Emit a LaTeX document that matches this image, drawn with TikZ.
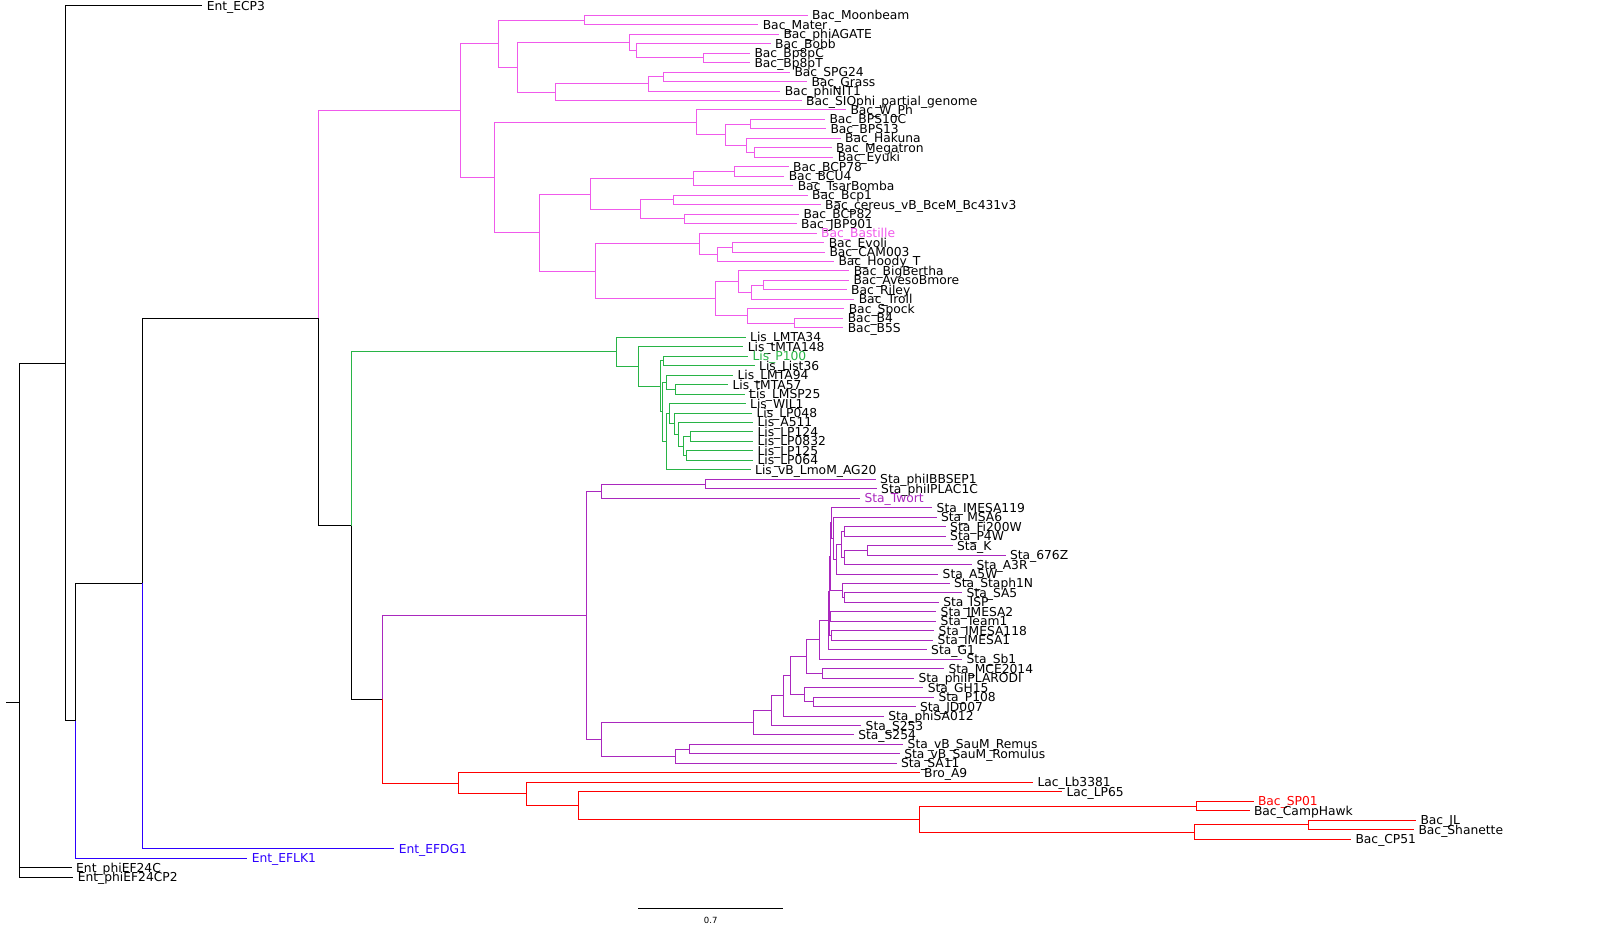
\documentclass[tikz,border=0pt]{standalone}
\usepackage{fontspec}
\setmainfont{DejaVu Sans}
\usepackage{xcolor}
\definecolor{bacpink}{RGB}{240,90,235}
\definecolor{lisgreen}{RGB}{40,180,70}
\definecolor{stapurple}{RGB}{170,40,190}
\definecolor{lacred}{RGB}{255,0,0}
\definecolor{entblue}{RGB}{45,0,255}
\usepackage{tikz}

\begin{document}
\begin{tikzpicture}[
    x=1pt, y=-9.47pt, line width=1pt,
    leaf/.style={anchor=west, inner xsep=4pt, inner ysep=0pt, text height=9pt, text depth=0pt,
      font=\fontsize{12.3}{14}\selectfont},
    bacedge/.style={draw=bacpink},
    lisedge/.style={draw=lisgreen},
    staedge/.style={draw=stapurple},
    lacedge/.style={draw=lacred},
    entedge/.style={draw=entblue}
  ]
  \useasboundingbox (0,0.3875) rectangle (1614,98.275);

  %% --- Backbone ---
  \coordinate (rootstub) at (6,74.58);
  \coordinate (root) at (19.7,74.58);
  \coordinate (n1) at (65.3,38.75);
  \coordinate (n2) at (75.7,76.5);
  \coordinate (n3) at (142.3,61.99);
  \coordinate (n4) at (318.3,33.98);
  \coordinate (n5) at (351.3,55.89);
  \coordinate (n6) at (382.3,74.24);

  \node[leaf] (ecp3) at (202.3,1) {Ent\_ECP3};
  \node[leaf, text=entblue] (efdg1) at (394.3,90) {Ent\_EFDG1};
  \node[leaf, text=entblue] (eflk1) at (247.3,91) {Ent\_EFLK1};
  \node[leaf] (phief24c) at (71.7,92) {Ent\_phiEF24C};
  \node[leaf] (phief24cp2) at (73.3,93) {Ent\_phiEF24CP2};

  %% --- Bacillus ---
  \coordinate (bac) at (460.5,12.066);
  \coordinate (b1) at (584.3,2.5);
  \coordinate (b2) at (629.3,4.875);
  \coordinate (b3) at (636.3,5.75);
  \coordinate (b4) at (703.3,6.5);
  \coordinate (b6) at (663.3,8.5);
  \coordinate (b7) at (648.3,9.25);
  \coordinate (b8) at (555.3,10.125);
  \coordinate (b9) at (517.3,7.5);
  \coordinate (b10) at (498.3,5);
  \coordinate (b11) at (750.3,13.5);
  \coordinate (b12) at (754.3,16.5);
  \coordinate (b13) at (746.3,15.75);
  \coordinate (b14) at (725.3,14.625);
  \coordinate (b15) at (696.3,13.3125);
  \coordinate (b16) at (734.3,18.5);
  \coordinate (b17) at (693.3,19.25);
  \coordinate (b18) at (673.3,21.5);
  \coordinate (b19) at (684.3,23.5);
  \coordinate (b20) at (640.3,22.5);
  \coordinate (b21) at (590.3,20.875);
  \coordinate (b22) at (732.3,26.5);
  \coordinate (b23) at (717.3,27.25);
  \coordinate (b24) at (699.3,26.125);
  \coordinate (b25) at (763.3,30.5);
  \coordinate (b26) at (751.3,31.25);
  \coordinate (b27) at (738.3,30.125);
  \coordinate (b28) at (794.3,34.5);
  \coordinate (b29) at (747.3,33.75);
  \coordinate (b30) at (715.3,31.9375);
  \coordinate (b31) at (595.3,29.03);
  \coordinate (b32) at (539.3,24.953);
  \coordinate (b33) at (494.3,19.133);

  \node[leaf] (moonbeam) at (807.7,2) {Bac\_Moonbeam};
  \node[leaf] (mater) at (758.3,3) {Bac\_Mater};
  \node[leaf] (phiagate) at (779,4) {Bac\_phiAGATE};
  \node[leaf] (bobb) at (770.7,5) {Bac\_Bobb};
  \node[leaf] (bp8pc) at (750,6) {Bac\_Bp8pC};
  \node[leaf] (bp8pt) at (750,7) {Bac\_Bp8pT};
  \node[leaf] (spg24) at (790,8) {Bac\_SPG24};
  \node[leaf] (grass) at (807,9) {Bac\_Grass};
  \node[leaf] (phinit1) at (780.3,10) {Bac\_phiNIT1};
  \node[leaf] (siophi) at (801.7,11) {Bac\_SIOphi\_partial\_genome};
  \node[leaf] (wph) at (846,12) {Bac\_W\_Ph};
  \node[leaf] (bps10c) at (825,13) {Bac\_BPS10C};
  \node[leaf] (bps13) at (826,14) {Bac\_BPS13};
  \node[leaf] (hakuna) at (840.7,15) {Bac\_Hakuna};
  \node[leaf] (megatron) at (831.7,16) {Bac\_Megatron};
  \node[leaf] (eyuki) at (833.3,17) {Bac\_Eyuki};
  \node[leaf] (bcp78) at (788.7,18) {Bac\_BCP78};
  \node[leaf] (bcu4) at (784.3,19) {Bac\_BCU4};
  \node[leaf] (tsarbomba) at (793.3,20) {Bac\_TsarBomba};
  \node[leaf] (bcp1) at (807.7,21) {Bac\_Bcp1};
  \node[leaf] (cereus) at (820.7,22) {Bac\_cereus\_vB\_BceM\_Bc431v3};
  \node[leaf] (bcp82) at (799,23) {Bac\_BCP82};
  \node[leaf] (jbp901) at (796.7,24) {Bac\_JBP901};
  \node[leaf, text=bacpink] (bastille) at (816.7,25) {Bac\_Bastille};
  \node[leaf] (evoli) at (824.3,26) {Bac\_Evoli};
  \node[leaf] (cam003) at (825,27) {Bac\_CAM003};
  \node[leaf] (hoodyt) at (834,28) {Bac\_Hoody\_T};
  \node[leaf] (bigbertha) at (849.3,29) {Bac\_BigBertha};
  \node[leaf] (avesobmore) at (849,30) {Bac\_AvesoBmore};
  \node[leaf] (riley) at (846.7,31) {Bac\_Riley};
  \node[leaf] (troll) at (854.3,32) {Bac\_Troll};
  \node[leaf] (spock) at (844.3,33) {Bac\_Spock};
  \node[leaf] (bfour) at (843.3,34) {Bac\_B4};
  \node[leaf] (b5s) at (843.3,35) {Bac\_B5S};

  %% --- Listeria ---
  \coordinate (lis) at (616,37.549);
  \coordinate (l1) at (663.3,38.5);
  \coordinate (l2) at (675,41.5);
  \coordinate (l3) at (666,40.75);
  \coordinate (l4) at (690,46.5);
  \coordinate (l5) at (686.7,48.5);
  \coordinate (l6) at (683.3,47.5);
  \coordinate (l7) at (678.7,46.25);
  \coordinate (l8) at (674.3,45.125);
  \coordinate (l9) at (669,44.0625);
  \coordinate (l10) at (666.7,47.03);
  \coordinate (l11) at (662.3,43.89);
  \coordinate (l12) at (660.3,41.195);
  \coordinate (l13) at (638.7,39.098);

  \node[leaf] (lmta34) at (745.7,36) {Lis\_LMTA34};
  \node[leaf] (tmta148) at (743.3,37) {Lis\_tMTA148};
  \node[leaf, text=lisgreen] (p100) at (748,38) {Lis\_P100};
  \node[leaf] (list36) at (754.7,39) {Lis\_List36};
  \node[leaf] (lmta94) at (733,40) {Lis\_LMTA94};
  \node[leaf] (tmta57) at (728,41) {Lis\_tMTA57};
  \node[leaf] (lmsp25) at (744.7,42) {Lis\_LMSP25};
  \node[leaf] (wil1) at (745.7,43) {Lis\_WIL1};
  \node[leaf] (lp048) at (752,44) {Lis\_LP048};
  \node[leaf] (a511) at (753,45) {Lis\_A511};
  \node[leaf] (lp124) at (753,46) {Lis\_LP124};
  \node[leaf] (lp0832) at (753,47) {Lis\_LP0832};
  \node[leaf] (lp125) at (753,48) {Lis\_LP125};
  \node[leaf] (lp064) at (753,49) {Lis\_LP064};
  \node[leaf] (ag20) at (750.7,50) {Lis\_vB\_LmoM\_AG20};

  %% --- Staphylococcus ---
  \coordinate (sta) at (586.3,65.37);
  \coordinate (s1) at (705.7,51.5);
  \coordinate (s2) at (601.3,52.25);
  \coordinate (s3) at (601.3,78.48);
  \coordinate (se) at (753.3,76.72);
  \coordinate (sd) at (771.3,75.43);
  \coordinate (sc) at (783.3,73.87);
  \coordinate (sb) at (790.3,71.74);
  \coordinate (sa) at (806.7,69.73);
  \coordinate (ssb) at (819.3,67.96);
  \coordinate (smce) at (822.3,71.5);
  \coordinate (sg) at (828.3,65.92);
  \coordinate (sgh) at (804.3,73.75);
  \coordinate (sp108) at (813.3,74.5);
  \coordinate (sf) at (689.3,79.5);
  \coordinate (sh) at (675.3,80.25);
  \coordinate (cc) at (829,62.84);
  \coordinate (c1) at (836.7,59.44);
  \coordinate (c2) at (833.3,57.22);
  \coordinate (c3) at (831,55.61);
  \coordinate (c4) at (830,59.18);
  \coordinate (c5) at (830,65.5);
  \coordinate (c6) at (831.7,67.5);
  \coordinate (c7) at (829.3,66.5);
  \coordinate (c56) at (844.3,56.5);
  \coordinate (c57) at (841.7,57.875);
  \coordinate (c58) at (867.3,58.5);
  \coordinate (c59) at (844.3,59.25);
  \coordinate (c62) at (842.7,62.75);
  \coordinate (c63) at (844,63.5);

  \node[leaf] (ibbsep1) at (875.7,51) {Sta\_phiIBBSEP1};
  \node[leaf] (iplac1c) at (876.7,52) {Sta\_phiIPLAC1C};
  \node[leaf, text=stapurple] (twort) at (860,53) {Sta\_Twort};
  \node[leaf] (imesa119) at (932.2,54) {Sta\_IMESA119};
  \node[leaf] (msa6) at (936.5,55) {Sta\_MSA6};
  \node[leaf] (fi200w) at (945.7,56) {Sta\_Fi200W};
  \node[leaf] (p4w) at (945.7,57) {Sta\_P4W};
  \node[leaf] (stak) at (952.5,58) {Sta\_K};
  \node[leaf] (s676z) at (1005.5,59) {Sta\_676Z};
  \node[leaf] (a3r) at (972,60) {Sta\_A3R};
  \node[leaf] (a5w) at (938.2,61) {Sta\_A5W};
  \node[leaf] (staph1n) at (949.5,62) {Sta\_Staph1N};
  \node[leaf] (sa5) at (962.2,63) {Sta\_SA5};
  \node[leaf] (isp) at (938.8,64) {Sta\_ISP};
  \node[leaf] (imesa2) at (936.2,65) {Sta\_IMESA2};
  \node[leaf] (team1) at (936.2,66) {Sta\_Team1};
  \node[leaf] (imesa118) at (934.2,67) {Sta\_IMESA118};
  \node[leaf] (imesa1) at (933.2,68) {Sta\_IMESA1};
  \node[leaf] (g1) at (926.7,69) {Sta\_G1};
  \node[leaf] (sb1) at (962,70) {Sta\_Sb1};
  \node[leaf] (mce2014) at (944,71) {Sta\_MCE2014};
  \node[leaf] (iplarodi) at (914,72) {Sta\_phiIPLARODI};
  \node[leaf] (gh15) at (923.3,73) {Sta\_GH15};
  \node[leaf] (p108) at (934,74) {Sta\_P108};
  \node[leaf] (jd007) at (915.5,75) {Sta\_JD007};
  \node[leaf] (phisa012) at (883.8,76) {Sta\_phiSA012};
  \node[leaf] (s253) at (861.2,77) {Sta\_S253};
  \node[leaf] (s254) at (853.8,78) {Sta\_S254};
  \node[leaf] (remus) at (903.2,79) {Sta\_vB\_SauM\_Remus};
  \node[leaf] (romulus) at (899.8,80) {Sta\_vB\_SauM\_Romulus};
  \node[leaf] (sa11) at (896.5,81) {Sta\_SA11};

  %% --- Lactobacillus and others ---
  \coordinate (lac) at (458.6,83.11);
  \coordinate (r1) at (1308.3,87.5);
  \coordinate (r2) at (1194.3,88.25);
  \coordinate (r3) at (1196.7,85.5);
  \coordinate (r4) at (919.2,86.875);
  \coordinate (r5) at (578.4,85.44);
  \coordinate (r6) at (526.2,84.22);

  \node[leaf] (broa9) at (919.6,82) {Bro\_A9};
  \node[leaf] (lb3381) at (1033,83) {Lac\_Lb3381};
  \node[leaf] (lp65) at (1062,84) {Lac\_LP65};
  \node[leaf, text=lacred] (sp01) at (1253.5,85) {Bac\_SP01};
  \node[leaf] (camphawk) at (1249.5,86) {Bac\_CampHawk};
  \node[leaf] (jl) at (1416,87) {Bac\_JL};
  \node[leaf] (shanette) at (1414,88) {Bac\_Shanette};
  \node[leaf] (cp51) at (1351,89) {Bac\_CP51};

  %% --- Branches ---
  \draw (rootstub) -- (root);
  \foreach \p/\c in {root/n1, root/phief24c, root/phief24cp2, n1/ecp3, n1/n2,
                     n2/n3, n3/n4, n4/n5, n5/n6}
    \draw (\p) |- (\c);
  \draw[entedge] (n2) |- (eflk1);
  \draw[entedge] (n3) |- (efdg1);
  \draw[bacedge] (n4) |- (bac);
  \draw[lisedge] (n5) |- (lis);
  \draw[staedge] (n6) |- (sta);
  \draw[lacedge] (n6) |- (lac);

  \foreach \p/\c in {bac/b10, bac/b33, b10/b1, b10/b9, b1/moonbeam, b1/mater,
                     b9/b2, b9/b8, b2/phiagate, b2/b3, b3/bobb, b3/b4, b4/bp8pc, b4/bp8pt,
                     b8/b7, b8/siophi, b7/b6, b7/phinit1, b6/spg24, b6/grass,
                     b33/b15, b33/b32, b15/wph, b15/b14, b14/b11, b14/b13,
                     b11/bps10c, b11/bps13, b13/hakuna, b13/b12, b12/megatron, b12/eyuki,
                     b32/b21, b32/b31, b21/b17, b21/b20, b17/b16, b17/tsarbomba,
                     b16/bcp78, b16/bcu4, b20/b18, b20/b19, b18/bcp1, b18/cereus,
                     b19/bcp82, b19/jbp901, b31/b24, b31/b30, b24/bastille, b24/b23,
                     b23/b22, b23/hoodyt, b22/evoli, b22/cam003, b30/b27, b30/b29,
                     b27/bigbertha, b27/b26, b26/b25, b26/troll, b25/avesobmore, b25/riley,
                     b29/spock, b29/b28, b28/bfour, b28/b5s}
    \draw[bacedge] (\p) |- (\c);

  \foreach \p/\c in {lis/lmta34, lis/l13, l13/tmta148, l13/l12, l12/l1, l12/l11,
                     l1/p100, l1/list36, l11/l3, l11/l10, l3/lmta94, l3/l2,
                     l2/tmta57, l2/lmsp25, l10/l9, l10/ag20, l9/wil1, l9/l8,
                     l8/lp048, l8/l7, l7/a511, l7/l6, l6/l4, l6/l5,
                     l4/lp124, l4/lp0832, l5/lp125, l5/lp064}
    \draw[lisedge] (\p) |- (\c);

  \foreach \p/\c in {sta/s2, sta/s3, s2/s1, s2/twort, s1/ibbsep1, s1/iplac1c,
                     s3/se, s3/sh, se/sd, se/s254, sd/sc, sd/s253, sc/sb, sc/phisa012,
                     sb/sa, sb/sgh, sa/ssb, sa/smce, smce/mce2014, smce/iplarodi,
                     ssb/sg, ssb/sb1, sg/cc, sg/g1, sgh/gh15, sgh/sp108,
                     sp108/p108, sp108/jd007, sh/sf, sh/sa11, sf/remus, sf/romulus,
                     cc/c4, cc/c7, c4/c3, c4/c62, c3/imesa119, c3/c2, c2/msa6, c2/c1,
                     c1/c57, c1/a5w, c57/c56, c57/c59, c56/fi200w, c56/p4w,
                     c59/c58, c59/a3r, c58/stak, c58/s676z, c62/staph1n, c62/c63,
                     c63/sa5, c63/isp, c7/c5, c7/c6, c5/imesa2, c5/team1,
                     c6/imesa118, c6/imesa1}
    \draw[staedge] (\p) |- (\c);

  \foreach \p/\c in {lac/broa9, lac/r6, r6/lb3381, r6/r5, r5/lp65, r5/r4,
                     r4/r3, r4/r2, r3/sp01, r3/camphawk, r2/r1, r2/cp51,
                     r1/jl, r1/shanette}
    \draw[lacedge] (\p) |- (\c);

  %% --- Scale bar ---
  \coordinate (sbleft) at (638.2,96.36);
  \coordinate (sbright) at (783.3,96.36);
  \draw (sbleft) -- (sbright);
  \node[font=\fontsize{8.5}{10}\selectfont, inner sep=0pt] (sblabel) at (710.7,97.6) {0.7};
\end{tikzpicture}
\end{document}
